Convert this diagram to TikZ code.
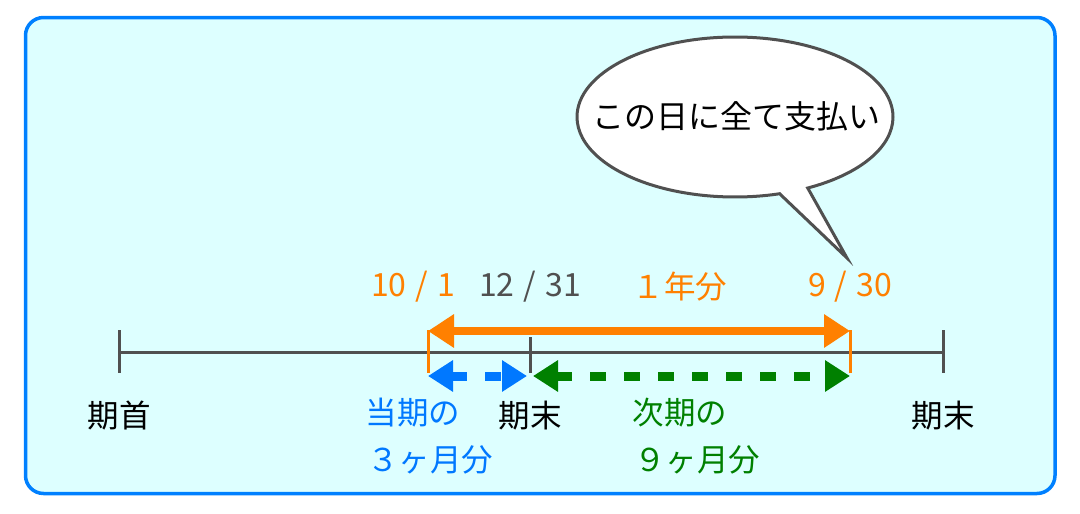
\documentclass[tikz,border=0pt]{standalone}
\usepackage{fontspec}
\setmainfont{Noto Sans CJK JP}
\usetikzlibrary{arrows.meta,shapes.geometric,shapes.callouts}
\definecolor{bgc}{RGB}{221,255,255}
\definecolor{bord}{RGB}{0,128,255}
\definecolor{axc}{RGB}{80,80,80}
\definecolor{orc}{RGB}{255,128,0}
\definecolor{blc}{RGB}{0,120,255}
\definecolor{grc}{RGB}{0,128,0}
\newcommand{\dsep}{\hspace{9pt}/\hspace{9pt}}
\tikzset{
  axis/.style={draw=axc,line width=3pt},
  lbl/.style={inner sep=0pt,font=\fontsize{31.5}{33}\selectfont},
  num/.style={inner sep=0pt,font=\fontsize{32}{34}\selectfont},
  bigarr/.style={line width=8pt,{Triangle[length=26pt,width=32pt]}-{Triangle[length=26pt,width=32pt]}},
  dasharr/.style={line width=9pt,dash pattern=on 16pt off 18pt,{Triangle[length=25pt,width=30pt]}-{Triangle[length=25pt,width=30pt]}},
}
\begin{document}
\begin{tikzpicture}[x=1pt,y=-1pt]
\useasboundingbox (0,0) rectangle (1080,514);
\draw[draw=bord,fill=bgc,line width=3.5pt,rounded corners=18pt] (25.5,17.5) rectangle (1055,493.5);
% timeline
\coordinate (L) at (119,352);
\coordinate (R) at (943,352);
\draw[axis] (L) -- (R);
\draw[axis] (119,330) -- (119,373);
\draw[axis] (943,330) -- (943,373);
\draw[axis] (530,337) -- (530,373);
% orange
\coordinate (oa) at (428,331);
\coordinate (ob) at (850,331);
\draw[orc,line width=3pt] (428,330) -- (428,373);
\draw[orc,line width=3pt] (850,330) -- (850,373);
\draw[orc,bigarr] (oa) -- (ob);
% blue and green
\coordinate (ba) at (428,376);
\coordinate (bb) at (527,376);
\coordinate (ga) at (533,376);
\coordinate (gb) at (850,376);
\draw[blc,dasharr] (ba) -- (bb);
\draw[grc,dasharr] (ga) -- (gb);
% labels
\node[num,text=orc] (d1) at (413,287) {10\dsep 1};
\node[num,text=axc] (d2) at (530,287) {12\dsep 31};
\node[lbl,text=orc] (d3) at (680,287) {１年分};
\node[num,text=orc] (d4) at (850,287) {9\dsep 30};
\node[lbl] (k1) at (119,416) {期首};
\node[lbl] (k2) at (530,416) {期末};
\node[lbl] (k3) at (943,416) {期末};
\node[lbl,text=blc] (t1) at (413,413) {当期の};
\node[lbl,text=blc] (t2) at (430,460) {３ヶ月分};
\node[lbl,text=grc] (n1) at (680,413) {次期の};
\node[lbl,text=grc] (n2) at (697,460) {９ヶ月分};
% callout
\coordinate (tip) at (847,258);
\node[ellipse callout,draw=axc,fill=white,line width=3pt,minimum width=316pt,minimum height=160pt,
  callout absolute pointer={(tip)},callout pointer arc=11,inner sep=0pt] (bubble) at (735,117) {};
\node[lbl,font=\fontsize{32}{34}\selectfont] (msg) at (736,116) {この日に全て支払い};
\end{tikzpicture}
\end{document}
